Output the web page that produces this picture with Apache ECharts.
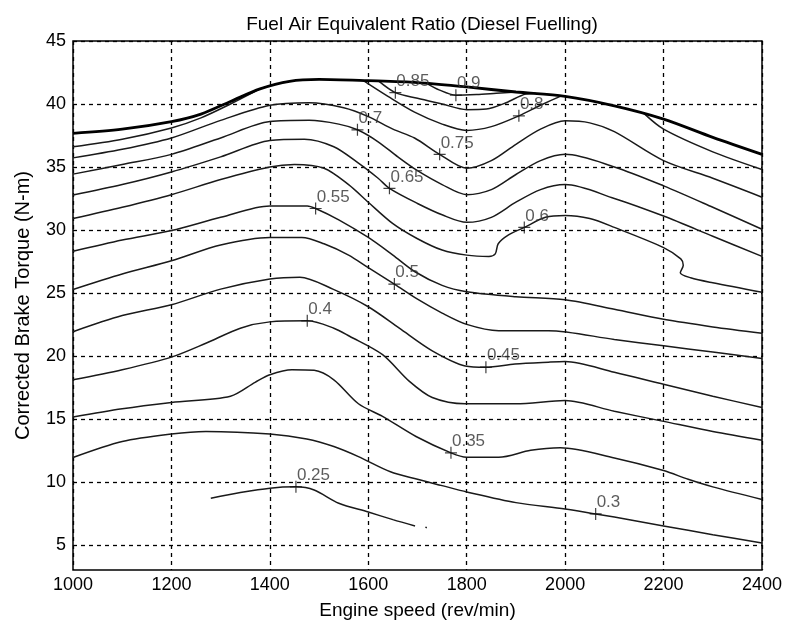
<!DOCTYPE html>
<html>
<head>
<meta charset="utf-8">
<script src="https://cdn.jsdelivr.net/npm/echarts@6/dist/echarts.min.js"></script>
<style>
html,body{margin:0;padding:0;background:#fff;}
#chart{width:787px;height:630px;}
</style>
</head>
<body>
<div id="chart"></div>
<script>
// ---- Data (engine speed rev/min, corrected brake torque N-m) ----
const xTicks = [1000, 1200, 1400, 1600, 1800, 2000, 2200, 2400];
const yTicks = [5, 10, 15, 20, 25, 30, 35, 40, 45];

const fullLoad = [[1000,37.67],[1100,38.0],[1200,38.6],[1260,39.2],[1320,40.2],[1380,41.2],[1440,41.8],[1500,41.95],[1600,41.85],[1700,41.7],[1800,41.35],[1900,40.95],[2000,40.6],[2100,39.85],[2200,38.8],[2300,37.35],[2400,36.0]];

const c090 = [[1715,41.72],[1745,41.1],[1778,40.7],[1820,40.75],[1860,40.85],[1900,40.95]];
const c085 = [[1620,41.85],[1655,40.9],[1700,40.45],[1750,40.0],[1800,39.55],[1840,39.6],[1880,40.1],[1920,40.8],[1940,40.85]];
const c080a = [[1000,36.6],[1100,37.2],[1200,38.1],[1260,38.9],[1320,40.0],[1380,41.2]];
const c080b = [[1590,41.85],[1640,40.6],[1694,39.35],[1750,38.4],[1800,37.9],[1850,38.2],[1906,39.06],[1950,39.9],[1990,40.6]];
const c080c = [[2160,39.25],[2200,38.0],[2300,36.2],[2400,34.8]];
const c075 = [[1000,35.72],[1100,36.4],[1200,37.3],[1300,38.7],[1400,39.9],[1480,40.1],[1550,39.7],[1600,39.0],[1650,38.0],[1694,37.3],[1745,36.0],[1800,34.9],[1850,35.5],[1900,36.8],[1950,38.0],[2000,38.66],[2050,38.5],[2100,37.8],[2200,35.5],[2300,34.1],[2400,32.6]];
const c070 = [[1000,34.43],[1100,35.2],[1200,36.0],[1300,37.3],[1400,38.6],[1480,38.7],[1540,38.4],[1578,37.95],[1620,37.0],[1660,35.8],[1700,34.7],[1750,33.6],[1800,32.8],[1850,33.2],[1900,34.4],[1950,35.5],[2000,36.0],[2100,35.0],[2200,33.5],[2300,31.8],[2400,30.05]];
const c065 = [[1000,32.77],[1100,33.6],[1200,34.6],[1300,35.8],[1400,37.1],[1470,37.2],[1530,36.6],[1580,35.3],[1620,34.1],[1643,33.3],[1700,32.1],[1750,31.2],[1800,30.6],[1850,31.0],[1900,32.2],[1950,33.2],[2000,33.6],[2100,32.5],[2200,31.1],[2300,29.5],[2400,27.9]];
const c060 = [[1000,30.9],[1100,31.8],[1200,32.8],[1300,34.0],[1400,35.0],[1450,35.2],[1510,34.9],[1560,33.6],[1600,32.2],[1650,30.5],[1700,29.3],[1750,28.4],[1800,28.0],[1845,27.9],[1858,28.1],[1864,28.9],[1885,29.6],[1917,30.2],[1960,31.0],[2000,31.15],[2050,30.9],[2100,30.2],[2200,28.6],[2235,27.7],[2240,27.2],[2234,26.6],[2255,26.2],[2300,25.8],[2400,25.05]];
const c055 = [[1000,28.3],[1100,29.2],[1200,29.95],[1300,31.0],[1400,31.9],[1476,31.9],[1493,31.7],[1540,30.8],[1600,29.4],[1650,28.0],[1694,26.7],[1750,25.6],[1800,25.1],[1900,24.7],[2000,24.45],[2100,23.7],[2200,22.9],[2300,22.3],[2400,21.8]];
const c050 = [[1000,25.27],[1100,26.5],[1200,27.55],[1300,28.8],[1400,29.4],[1465,29.4],[1510,28.9],[1560,28.0],[1600,27.0],[1653,25.7],[1700,24.5],[1750,23.4],[1800,22.5],[1865,22.0],[1966,22.0],[2100,21.3],[2200,20.8],[2300,20.3],[2400,19.8]];
const c045 = [[1000,21.92],[1100,23.2],[1200,24.06],[1300,25.3],[1400,26.1],[1461,26.25],[1528,25.3],[1600,23.9],[1663,22.2],[1730,20.4],[1797,19.2],[1839,19.1],[1898,19.35],[1966,19.5],[2000,19.55],[2100,18.7],[2200,17.75],[2300,16.8],[2400,15.9]];
const c040 = [[1000,18.1],[1100,18.9],[1200,19.9],[1270,21.0],[1340,22.2],[1400,22.7],[1476,22.78],[1530,22.2],[1562,21.56],[1629,20.1],[1683,18.0],[1730,16.7],[1797,16.2],[1900,16.2],[2000,16.45],[2100,15.6],[2200,14.8],[2300,14.0],[2400,13.3]];
const c035 = [[1000,15.15],[1100,15.8],[1200,16.3],[1320,16.8],[1370,17.9],[1400,18.5],[1445,18.9],[1490,18.85],[1530,18.1],[1580,16.2],[1629,15.2],[1697,13.6],[1768,12.3],[1800,11.95],[1865,11.95],[1930,12.5],[1990,12.7],[2100,11.9],[2200,10.9],[2250,10.2],[2300,9.6],[2400,8.6]];
const c030 = [[1000,11.93],[1100,13.2],[1200,13.8],[1270,14.0],[1400,13.8],[1475,13.4],[1530,12.8],[1580,12.0],[1645,10.8],[1700,10.2],[1750,9.7],[1800,9.2],[1900,8.35],[2000,7.85],[2062,7.45],[2100,7.2],[2200,6.5],[2300,5.8],[2400,5.15]];
const c025 = [[1280,8.7],[1340,9.15],[1400,9.5],[1453,9.6],[1490,9.35],[1540,8.3],[1600,7.6],[1650,7.0],[1695,6.5]];
const c025dot = [[1716,6.4],[1719,6.35]];

// contour label positions ('+' marks) and their texts
const labelPoints = [[1655,40.9],[1778,40.7],[1906,39.06],[1578,37.95],[1745,36.0],[1643,33.3],[1917,30.2],[1493,31.7],[1653,25.7],[1476,22.78],[1839,19.1],[1768,12.3],[2062,7.45],[1453,9.6]];
const labelTexts = ['0.85','0.9','0.8','0.7','0.75','0.65','0.6','0.55','0.5','0.4','0.45','0.35','0.3','0.25'];

// ---- Chart ----
const chart = echarts.init(document.getElementById('chart'), null, {renderer: 'canvas'});
const lineColor = '#1a1a1a';
const font = 'Liberation Sans, Arial, sans-serif';
const contours = [c090, c085, c080a, c080b, c080c, c075, c070, c065, c060, c055, c050, c045, c040, c035, c030, c025, c025dot];

const series = contours.map(d => ({
  type: 'line', data: d, showSymbol: false, smooth: 0.3,
  lineStyle: {color: lineColor, width: 1.5}, silent: true, z: 3
}));
series.push({
  type: 'line', data: fullLoad, showSymbol: false, smooth: 0.3,
  lineStyle: {color: '#000', width: 2.8}, silent: true, z: 4
});
series.push({
  type: 'scatter',
  data: labelPoints.map((p, i) => ({value: p, name: labelTexts[i]})),
  symbol: 'path://M-0.6,-6H0.6V-0.6H6V0.6H0.6V6H-0.6V0.6H-6V-0.6H-0.6Z',
  symbolSize: 12,
  itemStyle: {color: '#111'},
  label: {
    show: true, formatter: p => p.name, position: [7, -14],
    color: '#333', fontSize: 17, fontFamily: font
  },
  silent: true, z: 5
});

chart.setOption({
  animation: false,
  backgroundColor: '#fff',
  title: {
    text: 'Fuel Air Equivalent Ratio (Diesel Fuelling)',
    left: 417, top: 10, textAlign: 'center',
    textStyle: {fontSize: 19, fontWeight: 'normal', color: '#000', fontFamily: font}
  },
  grid: {left: 73, right: 25, top: 41, bottom: 60, containLabel: false, outerBoundsMode: 'none',
    show: true, borderColor: '#000', borderWidth: 1.5, backgroundColor: 'transparent'},
  xAxis: {
    type: 'value', min: 1000, max: 2400, interval: 200,
    name: 'Engine speed (rev/min)', nameLocation: 'middle', nameGap: 31,
    nameTextStyle: {fontSize: 19, color: '#000', fontFamily: font},
    axisLine: {show: false}, axisTick: {show: false},
    axisLabel: {color: '#000', fontSize: 18, margin: 6, fontFamily: font,
      customValues: xTicks, formatter: v => String(v)},
    splitLine: {show: true, lineStyle: {color: '#000', width: 1.3, type: [4, 4]}}
  },
  yAxis: {
    type: 'value', min: 3, max: 45,
    name: 'Corrected Brake Torque (N-m)', nameLocation: 'middle', nameGap: 40,
    nameTextStyle: {fontSize: 20, color: '#000', fontFamily: font},
    axisLine: {show: false},
    axisTick: {show: false, customValues: yTicks},
    axisLabel: {color: '#000', fontSize: 18, margin: 7, fontFamily: font,
      customValues: yTicks, formatter: v => String(v)},
    splitLine: {show: true, lineStyle: {color: '#000', width: 1.3, type: [4, 4]}}
  },
  series: series
});
</script>
</body>
</html>
